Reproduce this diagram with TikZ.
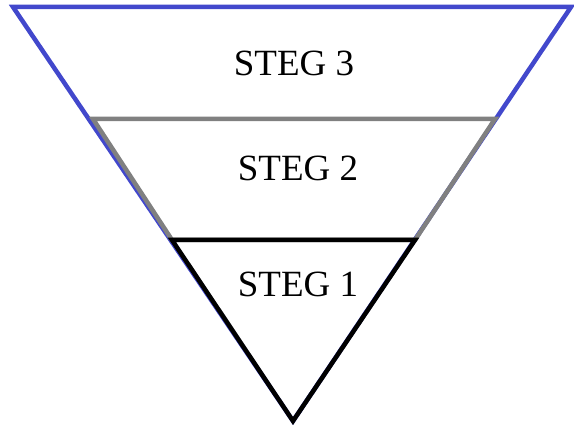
\documentclass[tikz,border=0pt]{standalone}
\usepackage{fontspec}
\setmainfont{Liberation Serif}
\definecolor{stegblue}{RGB}{66,72,204}
\definecolor{steggray}{RGB}{128,128,128}

\begin{document}
\begin{tikzpicture}[
  x=1pt, y=-1pt,
  outline/.style={line width=4.5pt, line join=miter},
  label/.style={font=\fontsize{37}{40}\selectfont, anchor=base, inner sep=0pt}
]
\useasboundingbox (0,0) rectangle (574,425);

% stages, outer to inner
\draw[outline, draw=stegblue] (13,7) -- (571,7) -- (293,421) -- cycle;
\draw[outline, draw=steggray] (93,119) -- (495,119) -- (415,240) -- (172,240) -- cycle;
\draw[outline, draw=black] (172,240) -- (415,240) -- (293,421) -- cycle;

\node[label] (steg3) at (294,76) {STEG 3};
\node[label] (steg2) at (298,181) {STEG 2};
\node[label] (steg1) at (298,297) {STEG 1};

\end{tikzpicture}
\end{document}
